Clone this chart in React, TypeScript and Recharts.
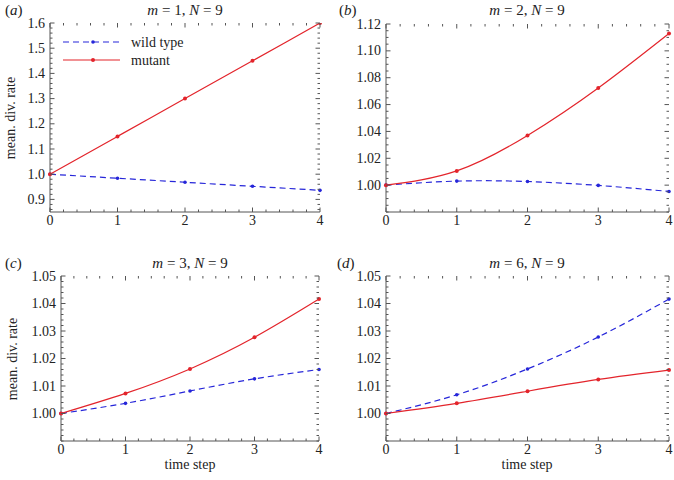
import React from 'react';
import { LineChart, Line, XAxis, YAxis, Legend } from 'recharts';

// time steps shared by every panel
const steps = [0, 1, 2, 3, 4];

// (a) m = 1
const wildA = [1.0, 0.984, 0.968, 0.952, 0.936];
const mutA = [1.0, 1.15, 1.3, 1.45, 1.6];
// (b) m = 2
const wildB = [1.0, 1.003, 1.0027, 0.9998, 0.9953];
const mutB = [1.0, 1.0106, 1.037, 1.0724, 1.113];
// (c) m = 3
const wildC = [1.0, 1.0037, 1.0082, 1.0126, 1.016];
const mutC = [1.0, 1.0073, 1.0162, 1.0277, 1.0416];
// (d) m = 6
const wildD = [1.0, 1.0068, 1.0162, 1.0278, 1.0416];
const mutD = [1.0, 1.0037, 1.0081, 1.0124, 1.0158];

const xMajor = [0, 1, 2, 3, 4];
const yMajorA = [0.9, 1.0, 1.1, 1.2, 1.3, 1.4, 1.5, 1.6];
const yMajorB = [1.0, 1.02, 1.04, 1.06, 1.08, 1.1, 1.12];
const yMajorCD = [1.0, 1.01, 1.02, 1.03, 1.04, 1.05];

const RED = '#e3242b';
const BLUE = '#2626d9';
const FRAME = '#555';
const TEXT = '#222';
const FONT = 'Liberation Serif';
const FS = 14;

const W = 337;
const H = 240;
const Y_AXIS_W = 40;
const X_AXIS_H = 20;

// tick positions between two values, anchored on multiples of step
const range = (from: number, to: number, step: number) => {
  const out: number[] = [];
  const start = Math.ceil(from / step - 1e-6);
  const end = Math.floor(to / step + 1e-6);
  for (let i = start; i <= end; i++) out.push(Math.round(i * step * 1e6) / 1e6);
  return out;
};

const isMajor = (majors: number[], v: number) => majors.some((m) => Math.abs(m - v) < 1e-9);

type Box = { left: number; right: number; top: number; bottom: number };

// bottom ticks also get a mirrored tick on the top edge of the frame
const xTick = (box: Box) => (props: any) => {
  const { x, payload } = props;
  const v = payload.value as number;
  const major = isMajor(xMajor, v);
  const len = major ? 4.5 : 2.5;
  return (
    <g>
      <line x1={x} y1={box.bottom} x2={x} y2={box.bottom - len} stroke={FRAME} />
      <line x1={x} y1={box.top} x2={x} y2={box.top + len} stroke={FRAME} />
      {major && (
        <text x={x} y={box.bottom + 3} textAnchor="middle" dominantBaseline="hanging" style={{ fontFamily: FONT, fontSize: FS }} fill={TEXT}>
          {v.toFixed(0)}
        </text>
      )}
    </g>
  );
};

// left ticks also get a mirrored tick on the right edge of the frame
const yTick = (box: Box, majors: number[], digits: number) => (props: any) => {
  const { y, payload } = props;
  const v = payload.value as number;
  const major = isMajor(majors, v);
  const len = major ? 4.5 : 2.5;
  return (
    <g>
      <line x1={box.left} y1={y} x2={box.left + len} y2={y} stroke={FRAME} />
      <line x1={box.right} y1={y} x2={box.right - len} y2={y} stroke={FRAME} />
      {major && (
        <text x={box.left - 5} y={y} textAnchor="end" dominantBaseline="central" style={{ fontFamily: FONT, fontSize: FS }} fill={TEXT}>
          {v.toFixed(digits)}
        </text>
      )}
    </g>
  );
};

const LegendBox = () => (
  <svg width={140} height={36}>
    <line x1={3} y1={9} x2={60} y2={9} stroke={BLUE} strokeWidth={1.2} strokeDasharray="6 4" />
    <circle cx={33} cy={9} r={1.8} fill={BLUE} />
    <text x={71} y={9} dominantBaseline="central" style={{ fontFamily: FONT, fontSize: FS }} fill={TEXT}>wild type</text>
    <line x1={3} y1={27} x2={60} y2={27} stroke={RED} strokeWidth={1.2} />
    <circle cx={33} cy={27} r={2} fill={RED} />
    <text x={71} y={27} dominantBaseline="central" style={{ fontFamily: FONT, fontSize: FS }} fill={TEXT}>mutant</text>
  </svg>
);

interface PanelProps {
  left: number;
  top: number;
  margin: { top: number; right: number; bottom: number; left: number };
  wild: number[];
  mutant: number[];
  yDomain: [number, number];
  yMajor: number[];
  yMinorStep: number;
  digits: number;
  legend?: boolean;
}

const Panel: React.FC<PanelProps> = ({ left, top, margin, wild, mutant, yDomain, yMajor, yMinorStep, digits, legend }) => {
  const data = steps.map((s, i) => ({ step: s, wild: wild[i], mutant: mutant[i] }));
  const xTicks = range(0, 4, 0.2);
  const yTicks = range(yDomain[0], yDomain[1], yMinorStep);
  const box: Box = {
    left: margin.left + Y_AXIS_W,
    right: W - margin.right,
    top: margin.top,
    bottom: H - margin.bottom - X_AXIS_H,
  };
  return (
    <div style={{ position: 'absolute', left, top }}>
      <LineChart width={W} height={H} data={data} margin={margin}>
        <XAxis
          dataKey="step"
          type="number"
          domain={[0, 4]}
          ticks={xTicks}
          interval={0}
          height={X_AXIS_H}
          tickSize={0}
          tickMargin={0}
          tickLine={false}
          axisLine={{ stroke: FRAME }}
          tick={xTick(box)}
        />
        <XAxis xAxisId="top" orientation="top" type="number" domain={[0, 4]} height={0} tick={false} axisLine={{ stroke: FRAME }} />
        <YAxis
          type="number"
          domain={yDomain}
          allowDataOverflow
          ticks={yTicks}
          interval={0}
          width={Y_AXIS_W}
          tickSize={0}
          tickMargin={0}
          tickLine={false}
          axisLine={{ stroke: FRAME }}
          tick={yTick(box, yMajor, digits)}
        />
        <YAxis yAxisId="right" orientation="right" type="number" domain={yDomain} width={0} tick={false} axisLine={{ stroke: FRAME }} />
        {legend && (
          <Legend
            layout="vertical"
            align="center"
            verticalAlign="middle"
            wrapperStyle={{ left: 60, top: 33, width: 140 }}
            content={() => <LegendBox />}
          />
        )}
        <Line
          dataKey="wild"
          type="natural"
          stroke={BLUE}
          strokeWidth={1.2}
          strokeDasharray="6 4"
          dot={{ r: 1.8, fill: BLUE, stroke: 'none' }}
          isAnimationActive={false}
        />
        <Line
          dataKey="mutant"
          type="natural"
          stroke={RED}
          strokeWidth={1.2}
          dot={{ r: 2, fill: RED, stroke: 'none' }}
          isAnimationActive={false}
        />
      </LineChart>
    </div>
  );
};

const textStyle: React.CSSProperties = {
  position: 'absolute',
  fontFamily: FONT,
  fontSize: FS,
  color: TEXT,
  whiteSpace: 'nowrap',
  lineHeight: 1,
};

const Title = ({ cx, cy, m }: { cx: number; cy: number; m: number }) => (
  <div style={{ ...textStyle, fontSize: 15, left: cx, top: cy, transform: 'translate(-50%, -50%)' }}>
    <i>m</i> = {m}, <i>N</i> = 9
  </div>
);

const Tag = ({ x, cy, t }: { x: number; cy: number; t: string }) => (
  <div style={{ ...textStyle, fontSize: 15, left: x, top: cy, transform: 'translateY(-50%)' }}>
    (<i>{t}</i>)
  </div>
);

const YLabel = ({ cx, cy }: { cx: number; cy: number }) => (
  <div style={{ ...textStyle, left: cx, top: cy, transform: 'translate(-50%, -50%) rotate(-90deg)' }}>
    mean. div. rate
  </div>
);

const XLabel = ({ cx, cy }: { cx: number; cy: number }) => (
  <div style={{ ...textStyle, left: cx, top: cy, transform: 'translate(-50%, -50%)' }}>time step</div>
);

export default function App() {
  return (
    <div style={{ position: 'absolute', left: 0, top: 0, width: 674, height: 480, background: '#fff' }}>
      <Panel
        left={0}
        top={0}
        margin={{ top: 23, right: 17, bottom: 8, left: 10 }}
        wild={wildA}
        mutant={mutA}
        yDomain={[0.85, 1.6]}
        yMajor={yMajorA}
        yMinorStep={0.02}
        digits={1}
        legend
      />
      <Panel
        left={337}
        top={0}
        margin={{ top: 24, right: 5, bottom: 8, left: 9 }}
        wild={wildB}
        mutant={mutB}
        yDomain={[0.98, 1.12]}
        yMajor={yMajorB}
        yMinorStep={0.005}
        digits={2}
      />
      <Panel
        left={0}
        top={240}
        margin={{ top: 36, right: 18, bottom: 19, left: 21 }}
        wild={wildC}
        mutant={mutC}
        yDomain={[0.99, 1.05]}
        yMajor={yMajorCD}
        yMinorStep={0.002}
        digits={2}
      />
      <Panel
        left={337}
        top={240}
        margin={{ top: 36, right: 5, bottom: 19, left: 9 }}
        wild={wildD}
        mutant={mutD}
        yDomain={[0.99, 1.05]}
        yMajor={yMajorCD}
        yMinorStep={0.002}
        digits={2}
      />
      <Tag x={5} cy={10} t="a" />
      <Title cx={185} cy={10} m={1} />
      <Tag x={339} cy={10} t="b" />
      <Title cx={527} cy={10} m={2} />
      <Tag x={5} cy={263} t="c" />
      <Title cx={190} cy={263} m={3} />
      <Tag x={337} cy={263} t="d" />
      <Title cx={527} cy={263} m={6} />
      <YLabel cx={11} cy={118} />
      <YLabel cx={13} cy={359} />
      <XLabel cx={190} cy={465} />
      <XLabel cx={527} cy={465} />
    </div>
  );
}
